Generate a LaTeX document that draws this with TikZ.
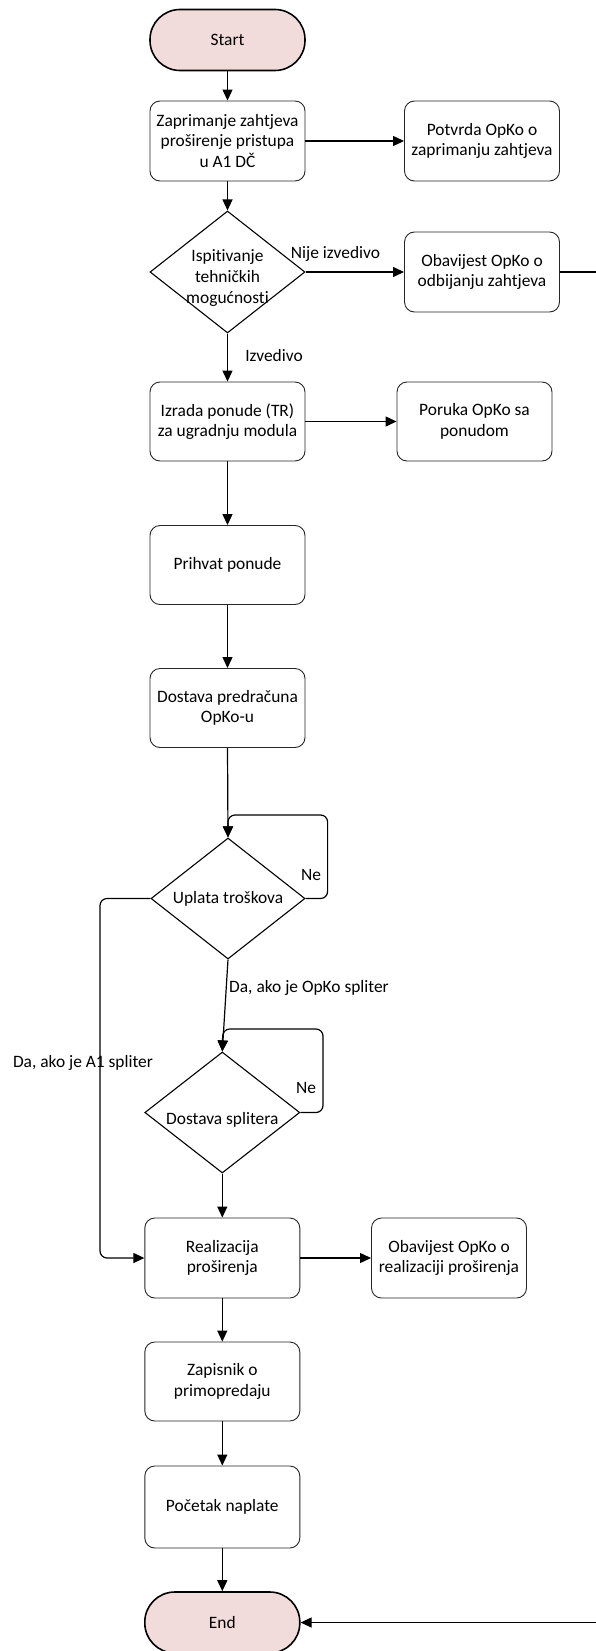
\documentclass[tikz,border=0pt]{standalone}
\usepackage{fontspec}
\setmainfont{Carlito}[Ligatures=NoCommon]
\usetikzlibrary{shapes.geometric,arrows.meta}
\definecolor{termfill}{HTML}{F2DCDB}
\begin{document}
\begin{tikzpicture}[x=1pt,y=-1pt,
  every node/.style={font=\fontsize{17.4}{20.7}\selectfont, align=center},
  procbox/.style={draw=black!85, line width=0.9pt, rounded corners=10pt, minimum width=155pt, minimum height=80pt, inner sep=2pt},
  termbox/.style={draw=black, line width=1.6pt, fill=termfill, rounded corners=30pt, minimum width=155pt, minimum height=61pt},
  decbox/.style={draw=black, line width=1.1pt, diamond, inner sep=0pt, minimum width=155pt, minimum height=121pt},
  arr/.style={line width=1.2pt, -{Triangle[length=11pt,width=10pt]}},
  lbl/.style={inner sep=0pt}
]
\useasboundingbox (0,0) rectangle (596,1651);
\clip (0,0) rectangle (596,1651);

% nodes
\node[termbox] (start) at (227.5,40) {Start};
\node[procbox] (zap) at (227.5,141) {Zaprimanje zahtjeva\\proširenje pristupa\\u A1 DČ};
\node[procbox] (potvrda) at (482,141) {Potvrda OpKo o\\zaprimanju zahtjeva};
\node[decbox, minimum height=122pt] (d1) at (227.5,272) {};
\node[lbl] (d1t) at (227.5,278) {Ispitivanje\\tehničkih\\mogućnosti};
\node[procbox] (obav1) at (482,272) {Obavijest OpKo o\\odbijanju zahtjeva};
\node[procbox, minimum height=79pt] (izrada) at (227.5,421.5) {Izrada ponude (TR)\\za ugradnju modula};
\node[procbox, minimum height=79pt] (poruka) at (474.5,421.5) {Poruka OpKo sa\\ponudom};
\node[procbox, minimum height=79pt] (prihvat) at (227.5,565) {Prihvat ponude};
\node[procbox, minimum height=79pt] (dostava) at (227.5,708) {Dostava predračuna\\OpKo-u};
\node[decbox, minimum width=154pt] (d2) at (228,898.5) {};
\node[lbl] (d2t) at (228,899) {Uplata troškova};
\node[decbox] (d3) at (222.3,1112.5) {};
\node[lbl] (d3t) at (222.3,1120) {Dostava splitera};
\node[procbox] (real) at (222.3,1258) {Realizacija\\proširenja};
\node[procbox] (obav2) at (449,1258) {Obavijest OpKo o\\realizaciji proširenja};
\node[procbox, minimum height=79pt] (zap2) at (222.3,1381.5) {Zapisnik o\\primopredaju};
\node[procbox, minimum height=82pt] (poc) at (222.3,1507) {Početak naplate};
\node[termbox] (end) at (222.3,1622.5) {End};

% labels
\node[lbl] (l1) at (335.5,254) {Nije izvedivo};
\node[lbl] (l2) at (274,356) {Izvedivo};
\node[lbl] (l3) at (311,875) {Ne};
\node[lbl] (l4) at (309,988) {Da, ako je OpKo spliter};
\node[lbl] (l5) at (306,1088) {Ne};
\node[lbl] (l6) at (83,1063) {Da, ako je A1 spliter};

% connectors
\draw[arr] (start.south) -- (zap.north);
\draw[arr] (zap.east) -- (potvrda.west);
\draw[arr] (zap.south) -- (d1.north);
\draw[arr] (d1.east) -- (obav1.west);
\draw[arr] (d1.south) -- (izrada.north);
\draw[arr] (izrada.east) -- (poruka.west);
\draw[arr] (izrada.south) -- (prihvat.north);
\draw[arr] (prihvat.south) -- (dostava.north);
\draw[arr] (dostava.south) -- (d2.north);
\draw[arr, rounded corners=7pt] (d2.east) -- (327.6,898.5) -- (327.6,815) -- (228,815) -- (d2.north);
\draw[arr, rounded corners=7pt] (d2.west) -- (100,898.5) -- (100,1258) -- (real.west);
\draw[arr] (d2.south) -- (d3.north);
\draw[arr, rounded corners=7pt] (d3.east) -- (323,1112.5) -- (323,1029) -- (222.8,1029) -- (d3.north);
\draw[arr] (d3.south) -- (real.north);
\draw[arr] (real.east) -- (obav2.west);
\draw[arr] (real.south) -- (zap2.north);
\draw[arr] (zap2.south) -- (poc.north);
\draw[arr] (poc.south) -- (end.north);
\draw[arr] (obav1.east) -- (600,272) -- (600,1622.5) -- (end.east);
\end{tikzpicture}
\end{document}
